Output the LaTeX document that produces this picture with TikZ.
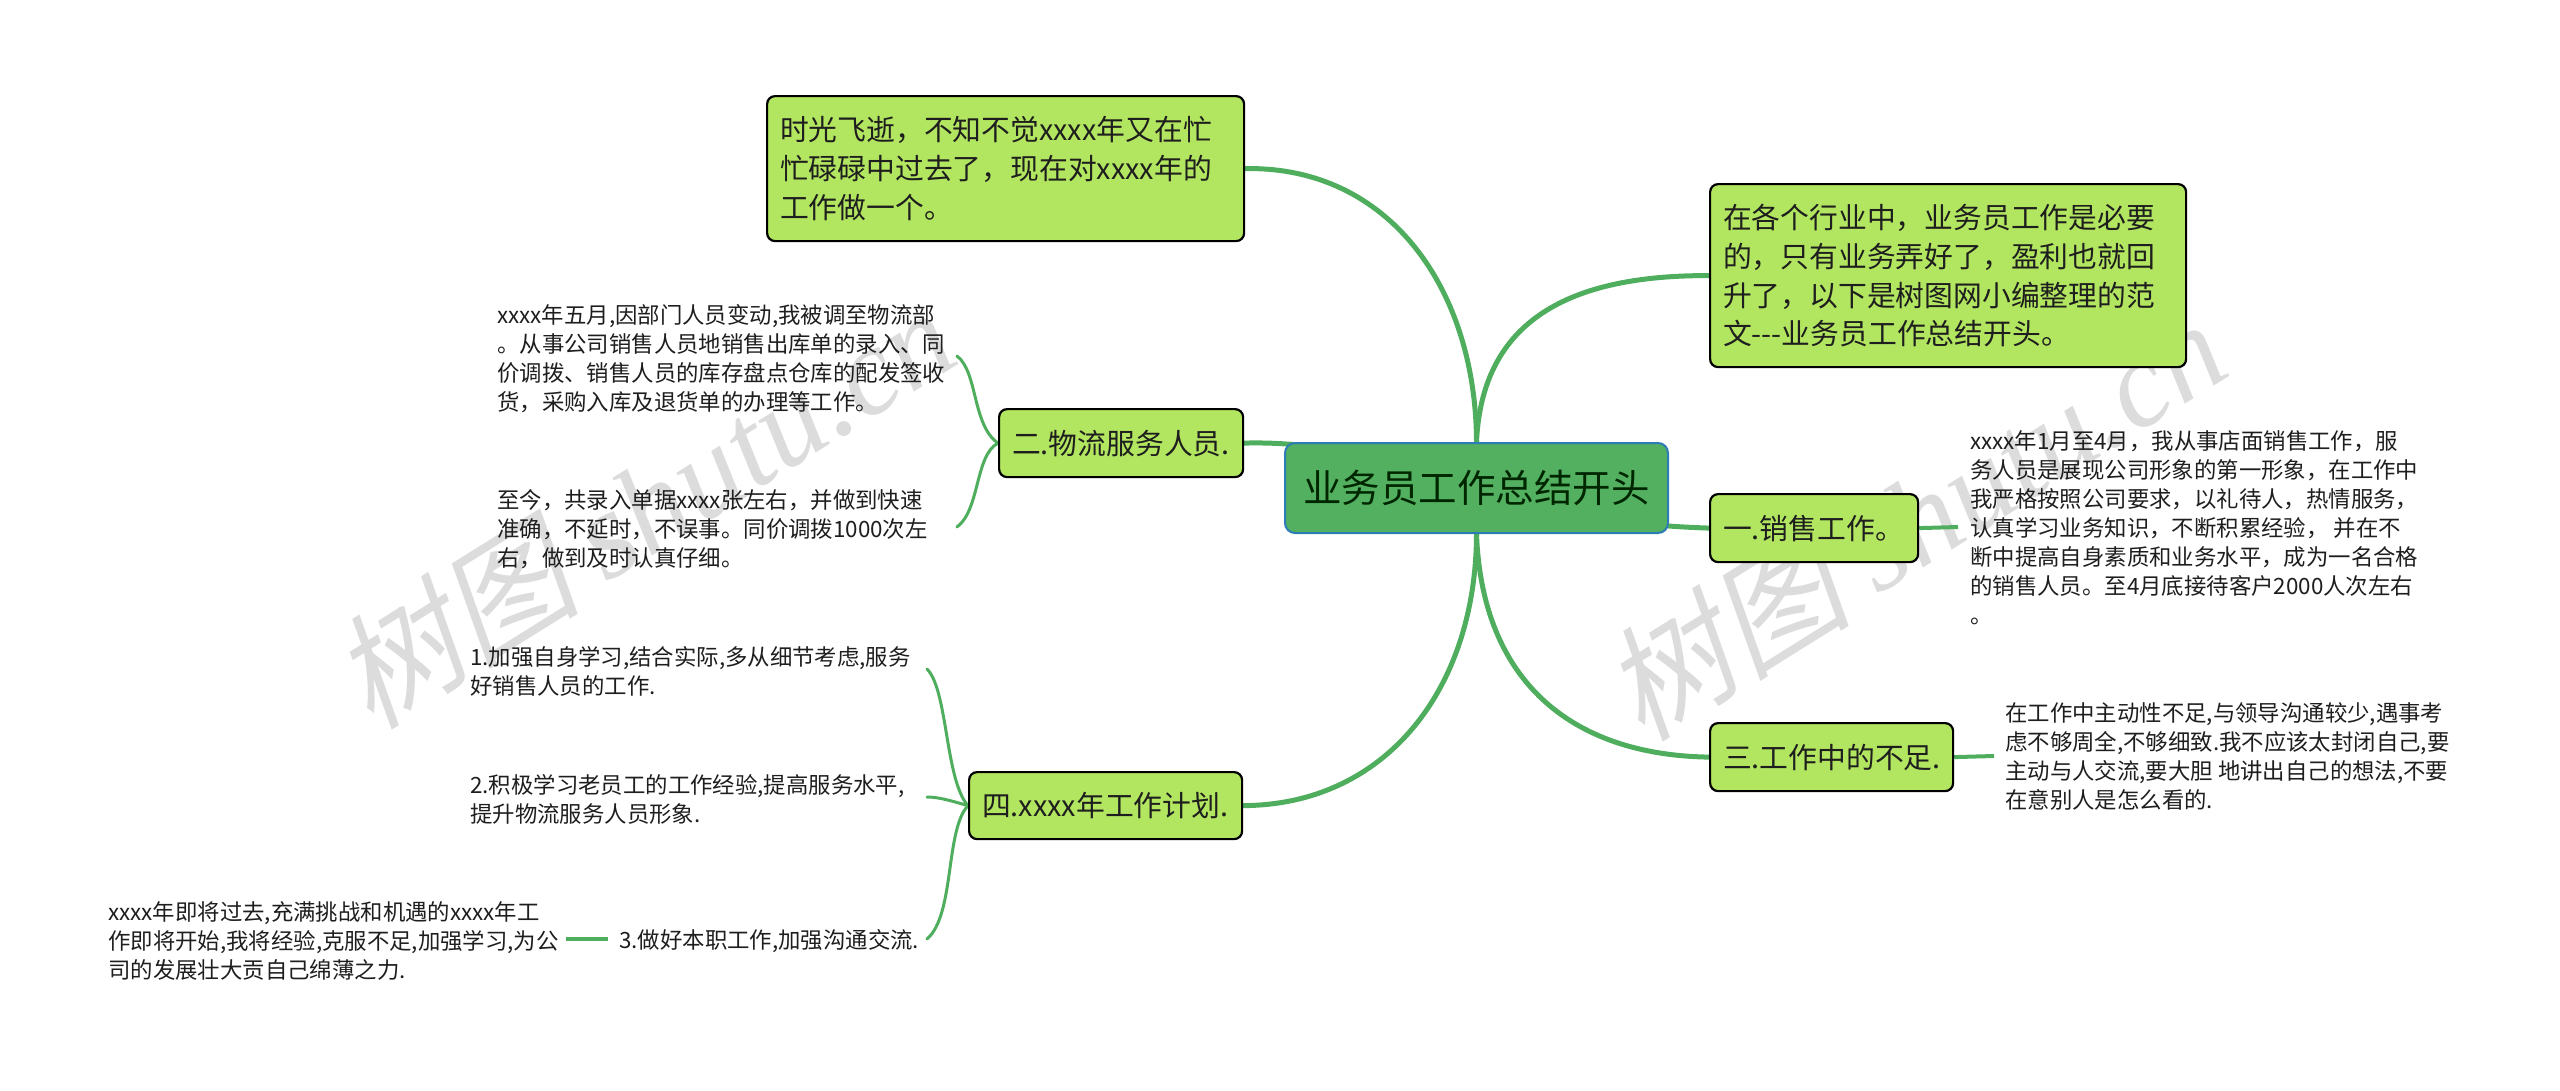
\documentclass[tikz,border=0pt]{standalone}
\usepackage{fontspec}
\setmainfont{Noto Sans CJK SC}
\newfontfamily\wmcjk[FakeSlant=0.22]{Noto Sans CJK SC}
\newfontfamily\wmlat{Liberation Serif}
\pgfdeclarelayer{wm}
\pgfdeclarelayer{links}
\pgfsetlayers{wm,links,main}
\definecolor{leaf}{HTML}{B3E660}
\definecolor{rootfill}{HTML}{52B060}
\definecolor{rootedge}{HTML}{2E7CB5}
\definecolor{linkgreen}{HTML}{4FAD5E}
\definecolor{ink}{HTML}{1E1E1E}
\definecolor{wmgray}{HTML}{DCDCDC}
\tikzset{
  topicbox/.style={draw=black,line width=2.2pt,fill=leaf,rounded corners=8pt,anchor=north west,
    inner xsep=13pt,inner ysep=0pt,align=left,text=ink,font=\fontsize{28.8}{38.8}\selectfont},
  rootbox/.style={draw=rootedge,line width=2pt,fill=rootfill,rounded corners=10pt,anchor=north west,
    inner sep=0pt,align=center,text=black!85!green,font=\fontsize{38.5}{46}\selectfont},
  leaftext/.style={anchor=west,inner sep=0pt,align=left,text=ink,font=\fontsize{22.4}{29}\selectfont},
  thick link/.style={draw=linkgreen,line width=5pt,line cap=round},
  mid link/.style={draw=linkgreen,line width=4pt},
  thin link/.style={draw=linkgreen,line width=3pt,line cap=round},
  watermark/.style={text=wmgray,rotate=32,inner sep=0pt,font=\fontsize{125}{140}\selectfont},
}
\begin{document}
\begin{tikzpicture}[x=1pt,y=-1pt]
\useasboundingbox (0,0) rectangle (2560,1090);

% root and topics
\node[rootbox,minimum width=383pt,minimum height=90pt] (root) at (1284,442) {业务员工作总结开头};
\node[topicbox,minimum width=477pt,minimum height=145pt,text width=451pt] (tl) at (766,95) {时光飞逝，不知不觉xxxx年又在忙\\忙碌碌中过去了，现在对xxxx年的\\工作做一个。};
\node[topicbox,minimum width=476pt,minimum height=183pt,text width=450pt] (tr) at (1709,183) {在各个行业中，业务员工作是必要\\的，只有业务弄好了，盈利也就回\\升了，以下是树图网小编整理的范\\文-{}-{}-业务员工作总结开头。};
\node[topicbox,minimum width=208pt,minimum height=68pt,text width=182pt] (n1) at (1709,493) {一.销售工作。};
\node[topicbox,minimum width=244pt,minimum height=68pt,text width=218pt] (n2) at (998,408) {二.物流服务人员.};
\node[topicbox,minimum width=243pt,minimum height=68pt,text width=217pt] (n3) at (1709,722) {三.工作中的不足.};
\node[topicbox,minimum width=273pt,minimum height=67pt,text width=247pt] (n4) at (968,771) {四.xxxx年工作计划.};

% leaf texts
\node[leaftext] (a) at (497,358.5) {xxxx年五月,因部门人员变动,我被调至物流部\\。从事公司销售人员地销售出库单的录入、同\\价调拨、销售人员的库存盘点仓库的配发签收\\货，采购入库及退货单的办理等工作。};
\node[leaftext] (b) at (497,529) {至今，共录入单据xxxx张左右，并做到快速\\准确，不延时，不误事。同价调拨1000次左\\右，做到及时认真仔细。};
\node[leaftext] (c) at (470,671) {1.加强自身学习,结合实际,多从细节考虑,服务\\好销售人员的工作.};
\node[leaftext] (d) at (470,799) {2.积极学习老员工的工作经验,提高服务水平,\\提升物流服务人员形象.};
\node[leaftext] (e) at (619,941) {3.做好本职工作,加强沟通交流.};
\node[leaftext] (f) at (108,941) {xxxx年即将过去,充满挑战和机遇的xxxx年工\\作即将开始,我将经验,克服不足,加强学习,为公\\司的发展壮大贡自己绵薄之力.};
\node[leaftext] (g) at (1970,528) {xxxx年1月至4月，我从事店面销售工作，服\\务人员是展现公司形象的第一形象，在工作中\\我严格按照公司要求，以礼待人，热情服务，\\认真学习业务知识，不断积累经验， 并在不\\断中提高自身素质和业务水平，成为一名合格\\的销售人员。至4月底接待客户2000人次左右\\。};
\node[leaftext] (h) at (2005,756.5) {在工作中主动性不足,与领导沟通较少,遇事考\\虑不够周全,不够细致.我不应该太封闭自己,要\\主动与人交流,要大胆 地讲出自己的想法,不要\\在意别人是怎么看的.};

% free ends of the short branches
\coordinate (aEnd) at (957,356);
\coordinate (bEnd) at (957,527);
\coordinate (cEnd) at (927,669);
\coordinate (dEnd) at (927,797);
\coordinate (eEnd) at (927,939);
\coordinate (fR) at (608,939);
\coordinate (fL) at (566,939);
\coordinate (gEnd) at (1958,527);
\coordinate (hEnd) at (1994,756);

\begin{pgfonlayer}{links}
\draw[thick link] (tl.east) .. controls (1390,166) and (1476,290) .. (root.north);
\draw[thick link] (tr.west) .. controls (1570,275) and (1482,320) .. (root.north);
\draw[thick link] (n3.west) .. controls (1570,755) and (1482,680) .. (root.south);
\draw[thick link] (n4.east) .. controls (1385,805) and (1476,690) .. (root.south);
\draw[thick link] (n2.east) .. controls (1320,441) and (1400,460) .. (root.center);
\draw[thick link] (root.center) .. controls (1600,522) and (1650,526) .. (n1.west);
\draw[mid link] (n1.east) -- (gEnd);
\draw[mid link] (n3.east) -- (hEnd);
\draw[thin link] (aEnd) .. controls (978,372) and (972,425) .. (n2.west);
\draw[thin link] (bEnd) .. controls (980,510) and (975,455) .. (n2.west);
\draw[thin link] (cEnd) .. controls (948,690) and (945,780) .. (n4.west);
\draw[thin link] (dEnd) .. controls (940,797) and (955,802) .. (n4.west);
\draw[thin link] (eEnd) .. controls (955,915) and (945,830) .. (n4.west);
\draw[mid link] (fR) -- (fL);
\end{pgfonlayer}

\begin{pgfonlayer}{wm}
\node[watermark] (w1) at (642,506) {{\wmcjk 树图} {\wmlat\itshape shutu.cn}};
\node[watermark] (w2) at (1913,518) {{\wmcjk 树图} {\wmlat\itshape shutu.cn}};
\end{pgfonlayer}
\end{tikzpicture}
\end{document}
